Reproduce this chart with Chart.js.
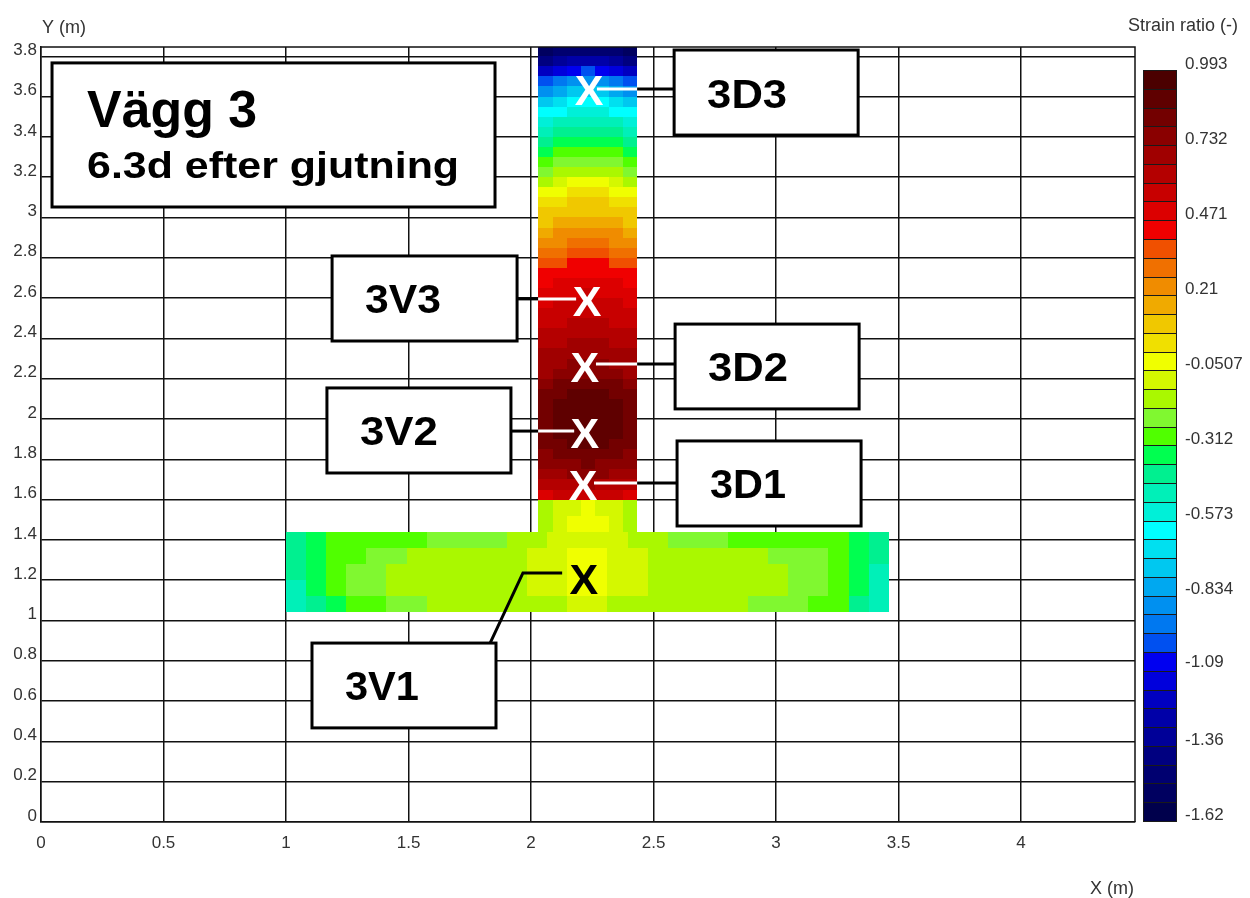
<!DOCTYPE html>
<html>
<head>
<meta charset="utf-8">
<title>Vägg 3 - Strain ratio</title>
<script src="https://cdn.jsdelivr.net/npm/chart.js@4.4.0/dist/chart.umd.min.js"></script>
<style>
html, body { margin: 0; padding: 0; background: #fff; }
canvas { display: block; }
</style>
</head>
<body>
<canvas id="chart" width="1250" height="898"></canvas>
<script>
"use strict";

// ---- axes ----
const xTicks = [0, 0.5, 1, 1.5, 2, 2.5, 3, 3.5, 4];
const yTicks = [0, 0.2, 0.4, 0.6, 0.8, 1, 1.2, 1.4, 1.6, 1.8, 2, 2.2, 2.4, 2.6, 2.8, 3, 3.2, 3.4, 3.6, 3.8];

// ---- colour scale: 40 equal bands ----
const cbTickValues = [0.993, 0.732, 0.471, 0.21, -0.0507, -0.312, -0.573, -0.834, -1.09, -1.36, -1.62];
const levelLabels = ['0.993', '0.732', '0.471', '0.21', '-0.0507', '-0.312', '-0.573', '-0.834', '-1.09', '-1.36', '-1.62'];
const levels = [-1.620, -1.5547, -1.4894, -1.4240, -1.3587, -1.2934, -1.2281, -1.1627, -1.0974, -1.0321,
    -0.9668, -0.9014, -0.8361, -0.7708, -0.7055, -0.6401, -0.5748, -0.5095, -0.4442, -0.3788,
    -0.3135, -0.2482, -0.1829, -0.1175, -0.0522, 0.0131, 0.0785, 0.1438, 0.2091, 0.2744,
    0.3398, 0.4051, 0.4704, 0.5357, 0.6011, 0.6664, 0.7317, 0.7970, 0.8624, 0.9277, 0.993];
const levelColors = ['#00004c', '#000060', '#000070', '#000080', '#000098', '#0000a8', '#0000c0', '#0000dc',
    '#0000f0', '#0050f0', '#0078f0', '#0090f0', '#00a8f0', '#00c8f0', '#00e0f0', '#00ffff',
    '#00f0d8', '#00f0b8', '#00f090', '#00ff50', '#50ff00', '#80f830', '#aaf800', '#d4f800',
    '#f0ff00', '#f0e000', '#f0c800', '#f0aa00', '#f08c00', '#f07000', '#f05000', '#f00000',
    '#dc0000', '#c80000', '#b40000', '#a00000', '#8a0000', '#730000', '#5f0000', '#4b0000'];

// ---- wall (upper pour), 7 columns, rows from top down ----
const stemXEdges = [2.030, 2.088, 2.145, 2.203, 2.260, 2.318, 2.375, 2.433];
const stemYEdges = [3.85, 3.80, 3.75, 3.70, 3.65, 3.60, 3.55, 3.50, 3.45, 3.40, 3.35, 3.30, 3.25, 3.20,
    3.15, 3.10, 3.05, 3.00, 2.95, 2.90, 2.85, 2.80, 2.75, 2.70, 2.65, 2.60, 2.55, 2.50, 2.45, 2.40,
    2.35, 2.30, 2.25, 2.20, 2.15, 2.10, 2.05, 2.00, 1.95, 1.90, 1.85, 1.80, 1.75, 1.70, 1.65, 1.60];
const stemValues = [
    [-1.50, -1.48, -1.46, -1.45, -1.46, -1.48, -1.50],
    [-1.36, -1.31, -1.27, -1.25, -1.27, -1.31, -1.36],
    [-1.18, -1.11, -1.05, -1.02, -1.05, -1.11, -1.18],
    [-1.00, -0.93, -0.87, -0.85, -0.87, -0.93, -1.00],
    [-0.84, -0.78, -0.74, -0.72, -0.74, -0.78, -0.84],
    [-0.72, -0.67, -0.63, -0.62, -0.63, -0.67, -0.72],
    [-0.62, -0.58, -0.54, -0.53, -0.54, -0.58, -0.62],
    [-0.53, -0.49, -0.46, -0.45, -0.46, -0.49, -0.53],
    [-0.45, -0.42, -0.39, -0.38, -0.39, -0.42, -0.45],
    [-0.38, -0.35, -0.33, -0.32, -0.33, -0.35, -0.38],
    [-0.32, -0.29, -0.27, -0.26, -0.27, -0.29, -0.32],
    [-0.26, -0.23, -0.21, -0.20, -0.21, -0.23, -0.26],
    [-0.20, -0.16, -0.13, -0.12, -0.13, -0.16, -0.20],
    [-0.12, -0.08, -0.05, -0.04, -0.05, -0.08, -0.12],
    [-0.04, 0.00, 0.02, 0.03, 0.02, 0.00, -0.04],
    [0.03, 0.06, 0.08, 0.09, 0.08, 0.06, 0.03],
    [0.09, 0.11, 0.13, 0.14, 0.13, 0.11, 0.09],
    [0.14, 0.16, 0.18, 0.19, 0.18, 0.16, 0.14],
    [0.19, 0.21, 0.23, 0.24, 0.23, 0.21, 0.19],
    [0.24, 0.27, 0.29, 0.30, 0.29, 0.27, 0.24],
    [0.30, 0.33, 0.35, 0.36, 0.35, 0.33, 0.30],
    [0.36, 0.39, 0.42, 0.43, 0.42, 0.39, 0.36],
    [0.42, 0.44, 0.46, 0.47, 0.46, 0.44, 0.42],
    [0.46, 0.48, 0.49, 0.50, 0.49, 0.48, 0.46],
    [0.49, 0.51, 0.53, 0.54, 0.53, 0.51, 0.49],
    [0.52, 0.54, 0.56, 0.57, 0.56, 0.54, 0.52],
    [0.55, 0.57, 0.59, 0.60, 0.59, 0.57, 0.55],
    [0.58, 0.60, 0.62, 0.63, 0.62, 0.60, 0.58],
    [0.61, 0.63, 0.65, 0.66, 0.65, 0.63, 0.61],
    [0.64, 0.66, 0.68, 0.69, 0.68, 0.66, 0.64],
    [0.67, 0.69, 0.71, 0.72, 0.71, 0.69, 0.67],
    [0.70, 0.72, 0.74, 0.75, 0.74, 0.72, 0.70],
    [0.73, 0.76, 0.78, 0.79, 0.78, 0.76, 0.73],
    [0.76, 0.80, 0.83, 0.84, 0.83, 0.80, 0.76],
    [0.80, 0.86, 0.88, 0.89, 0.88, 0.86, 0.80],
    [0.82, 0.87, 0.89, 0.90, 0.89, 0.87, 0.82],
    [0.83, 0.88, 0.90, 0.91, 0.90, 0.88, 0.83],
    [0.83, 0.88, 0.90, 0.91, 0.90, 0.88, 0.83],
    [0.82, 0.87, 0.89, 0.90, 0.89, 0.87, 0.82],
    [0.80, 0.86, 0.88, 0.89, 0.88, 0.86, 0.80],
    [0.78, 0.82, 0.84, 0.85, 0.84, 0.82, 0.78],
    [0.75, 0.77, 0.79, 0.80, 0.79, 0.77, 0.75],
    [0.70, 0.72, 0.74, 0.74, 0.74, 0.72, 0.70],
    [0.63, 0.65, 0.66, 0.67, 0.66, 0.65, 0.63],
    [0.52, 0.54, 0.55, 0.56, 0.55, 0.54, 0.52]
];

// ---- wall foot cast with the slab ----
const neckYEdges = [1.60, 1.52, 1.44];
const neckValues = [
    [-0.13, -0.09, -0.06, -0.05, -0.06, -0.09, -0.13],
    [-0.12, -0.08, -0.05, -0.04, -0.05, -0.08, -0.12]
];

// ---- slab, rows from top down ----
const flangeXEdges = [1.000, 1.082, 1.164, 1.246, 1.328, 1.410, 1.492, 1.574, 1.656, 1.738, 1.820,
    1.902, 1.984, 2.066, 2.148, 2.230, 2.312, 2.394, 2.476, 2.558, 2.640, 2.722, 2.804, 2.886,
    2.968, 3.050, 3.132, 3.214, 3.296, 3.378, 3.460];
const flangeYEdges = [1.44, 1.36, 1.28, 1.20, 1.12, 1.04];
const flangeValues = [
    [-0.40, -0.34, -0.31, -0.29, -0.28, -0.27, -0.26, -0.24, -0.22, -0.21, -0.19, -0.17, -0.13, -0.10, -0.08,
     -0.08, -0.10, -0.13, -0.17, -0.20, -0.22, -0.24, -0.25, -0.26, -0.27, -0.28, -0.29, -0.31, -0.34, -0.41],
    [-0.43, -0.35, -0.29, -0.25, -0.22, -0.20, -0.18, -0.17, -0.16, -0.15, -0.14, -0.13, -0.11, -0.08, -0.05,
     -0.05, -0.08, -0.11, -0.13, -0.14, -0.15, -0.16, -0.17, -0.18, -0.19, -0.21, -0.24, -0.29, -0.35, -0.44],
    [-0.44, -0.35, -0.28, -0.23, -0.20, -0.17, -0.15, -0.14, -0.14, -0.13, -0.13, -0.12, -0.10, -0.06, -0.03,
     -0.03, -0.06, -0.10, -0.12, -0.13, -0.13, -0.14, -0.14, -0.15, -0.16, -0.19, -0.22, -0.28, -0.35, -0.45],
    [-0.45, -0.36, -0.29, -0.24, -0.21, -0.18, -0.16, -0.15, -0.14, -0.14, -0.13, -0.12, -0.10, -0.07, -0.04,
     -0.04, -0.07, -0.10, -0.12, -0.13, -0.14, -0.14, -0.15, -0.15, -0.17, -0.19, -0.23, -0.29, -0.36, -0.46],
    [-0.48, -0.39, -0.33, -0.28, -0.25, -0.22, -0.20, -0.18, -0.17, -0.16, -0.16, -0.15, -0.14, -0.12, -0.10,
     -0.10, -0.12, -0.14, -0.15, -0.16, -0.16, -0.17, -0.18, -0.19, -0.20, -0.22, -0.26, -0.31, -0.38, -0.49]
];

// ---- annotations (placed in axis units) ----
const titleLines = ['Vägg 3', '6.3d efter gjutning'];
const gaugeNames = ['3D3', '3V3', '3D2', '3V2', '3D1', '3V1'];

const FONT = '"Liberation Sans", Arial, Helvetica, sans-serif';
const titleBox = { x0: 0.045, x1: 1.853, y0: 3.767, y1: 3.052 };
const titleText = [
    { x: 0.188, y: 3.449, size: 52, width: 170 },
    { x: 0.188, y: 3.196, size: 37, width: 372 }
];
const gaugeBoxes = [
    { x0: 2.584, x1: 3.335, y0: 3.831, y1: 3.409, width: 80 },
    { x0: 1.188, x1: 1.943, y0: 2.809, y1: 2.387, width: 76 },
    { x0: 2.588, x1: 3.339, y0: 2.471, y1: 2.050, width: 80 },
    { x0: 1.167, x1: 1.918, y0: 2.154, y1: 1.732, width: 78 },
    { x0: 2.596, x1: 3.347, y0: 1.891, y1: 1.469, width: 76 },
    { x0: 1.106, x1: 1.857, y0: 0.888, y1: 0.467, width: 74 }
];
const gaugeMarks = [
    { x: 2.237, y: 3.633, color: '#fff' },
    { x: 2.229, y: 2.586, color: '#fff' },
    { x: 2.220, y: 2.258, color: '#fff' },
    { x: 2.220, y: 1.931, color: '#fff' },
    { x: 2.212, y: 1.672, color: '#fff' },
    { x: 2.216, y: 1.206, color: '#000' }
];
const leaders = [
    { color: '#fff', pts: [[2.269, 3.638], [2.433, 3.638]] },
    { color: '#000', pts: [[2.433, 3.638], [2.584, 3.638]] },
    { color: '#000', pts: [[1.943, 2.596], [2.029, 2.596]] },
    { color: '#fff', pts: [[2.029, 2.596], [2.184, 2.596]] },
    { color: '#fff', pts: [[2.265, 2.273], [2.433, 2.273]] },
    { color: '#000', pts: [[2.433, 2.273], [2.588, 2.273]] },
    { color: '#000', pts: [[1.918, 1.940], [2.029, 1.940]] },
    { color: '#fff', pts: [[2.029, 1.940], [2.176, 1.940]] },
    { color: '#fff', pts: [[2.257, 1.682], [2.433, 1.682]] },
    { color: '#000', pts: [[2.433, 1.682], [2.596, 1.682]] },
    { color: '#000', pts: [[2.127, 1.236], [1.967, 1.236], [1.833, 0.888]] }
];

function colorFor(v) {
    for (let i = 0; i < levelColors.length; i++) {
        if (v < levels[i + 1]) {
            return levelColors[i];
        }
    }
    return levelColors[levelColors.length - 1];
}

function fillCells(ctx, xs, ys, xEdges, yEdges, values) {
    for (let r = 0; r < values.length; r++) {
        const ya = Math.round(ys.getPixelForValue(yEdges[r]));
        const yb = Math.round(ys.getPixelForValue(yEdges[r + 1]));
        for (let c = 0; c < values[r].length; c++) {
            const xa = Math.round(xs.getPixelForValue(xEdges[c]));
            const xb = Math.round(xs.getPixelForValue(xEdges[c + 1]));
            ctx.fillStyle = colorFor(values[r][c]);
            ctx.fillRect(xa, Math.min(ya, yb), xb - xa, Math.abs(yb - ya));
        }
    }
}

function text(ctx, str, px, py, size, width, color, align) {
    ctx.save();
    ctx.font = 'bold ' + size + 'px ' + FONT;
    ctx.fillStyle = color;
    ctx.textBaseline = 'alphabetic';
    ctx.textAlign = align || 'left';
    const sx = width ? width / ctx.measureText(str).width : 1;
    ctx.translate(px, py);
    ctx.scale(sx, 1);
    ctx.fillText(str, 0, 0);
    ctx.restore();
}

function plainText(ctx, str, px, py, size) {
    ctx.save();
    ctx.font = size + 'px ' + FONT;
    ctx.fillStyle = '#333';
    ctx.textBaseline = 'alphabetic';
    ctx.textAlign = 'left';
    ctx.fillText(str, px, py);
    ctx.restore();
}

function box(ctx, xs, ys, b) {
    const x0 = xs.getPixelForValue(b.x0), x1 = xs.getPixelForValue(b.x1);
    const y0 = ys.getPixelForValue(b.y0), y1 = ys.getPixelForValue(b.y1);
    ctx.fillStyle = '#fff';
    ctx.fillRect(x0, y0, x1 - x0, y1 - y0);
    ctx.strokeStyle = '#000';
    ctx.lineWidth = 3;
    ctx.strokeRect(x0, y0, x1 - x0, y1 - y0);
    return { x0: x0, x1: x1, y0: y0, y1: y1 };
}

const contourPlugin = {
    id: 'contour',
    beforeDatasetsDraw(chart) {
        const ctx = chart.ctx, area = chart.chartArea;
        const xs = chart.scales.x, ys = chart.scales.y, cb = chart.scales.cb;
        ctx.save();
        ctx.beginPath();
        ctx.rect(area.left, area.top, area.right - area.left, area.bottom - area.top);
        ctx.clip();
        fillCells(ctx, xs, ys, flangeXEdges, flangeYEdges, flangeValues);
        fillCells(ctx, xs, ys, stemXEdges, neckYEdges, neckValues);
        fillCells(ctx, xs, ys, stemXEdges, stemYEdges, stemValues);
        ctx.restore();

        // colour bar
        const left = Math.round(cb.left + 8), w = 34;
        ctx.save();
        for (let i = 0; i < levelColors.length; i++) {
            const ya = Math.round(cb.getPixelForValue(levels[i]));
            const yb = Math.round(cb.getPixelForValue(levels[i + 1]));
            ctx.fillStyle = levelColors[i];
            ctx.fillRect(left, yb, w, ya - yb);
            ctx.strokeStyle = '#1a1a1a';
            ctx.lineWidth = 1;
            ctx.strokeRect(left + 0.5, yb + 0.5, w - 1, ya - yb);
        }
        ctx.restore();
    },
    afterDraw(chart) {
        const ctx = chart.ctx, area = chart.chartArea;
        const xs = chart.scales.x, ys = chart.scales.y, cb = chart.scales.cb;

        // frame (top and right; left and bottom are the axis borders)
        ctx.save();
        ctx.strokeStyle = '#111';
        ctx.lineWidth = 1.5;
        ctx.beginPath();
        ctx.moveTo(area.left, area.top);
        ctx.lineTo(area.right, area.top);
        ctx.lineTo(area.right, area.bottom);
        ctx.stroke();
        ctx.restore();

        // axis titles
        plainText(ctx, 'Y (m)', area.left + 1, area.top - 14, 18);
        plainText(ctx, 'X (m)', area.right - 45, 894, 18);
        plainText(ctx, 'Strain ratio (-)', cb.left - 7, area.top - 16, 18);

        ctx.save();
        // leader lines
        ctx.lineWidth = 3;
        ctx.lineCap = 'butt';
        leaders.forEach(function (l) {
            ctx.strokeStyle = l.color;
            ctx.beginPath();
            l.pts.forEach(function (p, i) {
                const px = xs.getPixelForValue(p[0]), py = ys.getPixelForValue(p[1]);
                if (i === 0) ctx.moveTo(px, py); else ctx.lineTo(px, py);
            });
            ctx.stroke();
        });

        // title box
        box(ctx, xs, ys, titleBox);
        titleLines.forEach(function (s, i) {
            const t = titleText[i];
            text(ctx, s, xs.getPixelForValue(t.x), ys.getPixelForValue(t.y), t.size, t.width, '#000');
        });

        // gauge label boxes
        gaugeNames.forEach(function (name, i) {
            const b = box(ctx, xs, ys, gaugeBoxes[i]);
            text(ctx, name, b.x0 + 33, (b.y0 + b.y1) / 2 + 15, 40, gaugeBoxes[i].width, '#000');
        });

        // gauge positions
        gaugeMarks.forEach(function (m) {
            text(ctx, 'X', xs.getPixelForValue(m.x), ys.getPixelForValue(m.y) + 15, 43, 0, m.color, 'center');
        });
        ctx.restore();
    }
};

const tickFont = { family: FONT, size: 17 };

new Chart(document.getElementById('chart'), {
    type: 'scatter',
    data: { datasets: [] },
    options: {
        responsive: false,
        animation: false,
        devicePixelRatio: 1,
        layout: { padding: { top: 47, right: 0, bottom: 0, left: 0 } },
        plugins: {
            legend: { display: false },
            tooltip: { enabled: false }
        },
        scales: {
            x: {
                type: 'linear',
                min: 0,
                max: 4.465,
                z: 1,
                afterBuildTicks: function (s) { s.ticks = xTicks.map(v => ({ value: v })); },
                afterFit: function (s) { s.height = 76; },
                grid: { color: '#111', lineWidth: 1.5, drawTicks: false },
                border: { color: '#111', width: 1.5 },
                ticks: {
                    autoSkip: false,
                    maxRotation: 0,
                    padding: 11,
                    color: '#333',
                    font: tickFont,
                    callback: v => String(v)
                }
            },
            y: {
                type: 'linear',
                min: 0,
                max: 3.846,
                z: 1,
                afterBuildTicks: function (s) { s.ticks = yTicks.map(v => ({ value: v })); },
                afterFit: function (s) { s.width = 41; s.paddingTop = 0; s.paddingBottom = 0; },
                grid: { color: '#111', lineWidth: 1.5, drawTicks: false },
                border: { color: '#111', width: 1.5 },
                ticks: {
                    autoSkip: false,
                    padding: 4,
                    labelOffset: -6,
                    color: '#333',
                    font: tickFont,
                    callback: v => String(Math.round(v * 10) / 10)
                }
            },
            cb: {
                type: 'linear',
                position: 'right',
                min: -1.6235,
                max: 1.073,
                afterBuildTicks: function (s) { s.ticks = cbTickValues.map(v => ({ value: v })); },
                afterFit: function (s) { s.width = 115; s.paddingTop = 0; s.paddingBottom = 0; },
                grid: { display: false, drawTicks: false },
                border: { display: false },
                ticks: {
                    autoSkip: false,
                    padding: 50,
                    labelOffset: -6,
                    color: '#333',
                    font: tickFont,
                    callback: v => levelLabels[cbTickValues.indexOf(v)]
                }
            }
        }
    },
    plugins: [contourPlugin]
});
</script>
</body>
</html>
